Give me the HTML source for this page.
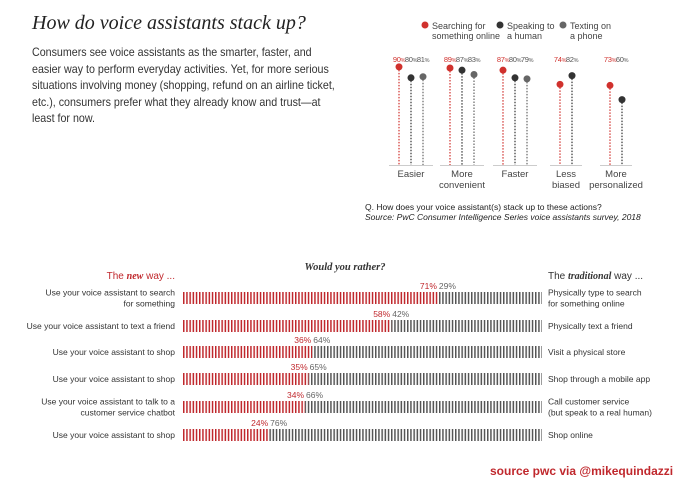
<!DOCTYPE html>
<html><head><meta charset="utf-8"><style>
body{margin:0;background:#fff;width:680px;height:482px;overflow:hidden;position:relative;font-family:"Liberation Sans",Arial,sans-serif}
.t{position:absolute;white-space:nowrap}
</style></head><body>
<div class="t" style="left:32px;top:12px;font:italic 20px 'Liberation Serif',serif;color:#222">How do voice assistants stack up?</div>
<div class="t" style="left:32px;top:44px;font-size:12px;line-height:16.5px;color:#333;transform:scaleX(0.89);transform-origin:0 0">Consumers see voice assistants as the smarter, faster, and<br>easier way to perform everyday activities. Yet, for more serious<br>situations involving money (shopping, refund on an airline ticket,<br>etc.), consumers prefer what they already know and trust—at<br>least for now.</div>
<svg id="topchart" width="680" height="482" style="position:absolute;left:0;top:0"></svg>
<svg id="botchart" width="680" height="482" style="position:absolute;left:0;top:0"></svg>
<div class="t" style="left:490px;top:464px;font-size:12px;font-weight:bold;color:#c0282d">source pwc via @mikequindazzi</div>
<script>
const groups=["Easier","More|convenient","Faster","Less|biased","More|personalized"];
const searching=[90,89,87,74,73];
const speaking=[80,87,80,82,60];
const texting=[81,83,79,null,null];
const seriesColors=["#d0312d","#333","#666"];
const legendLabels=["Searching for|something online","Speaking to|a human","Texting on|a phone"];

const rowsNew=["Use your voice assistant to search|for something","Use your voice assistant to text a friend","Use your voice assistant to shop","Use your voice assistant to shop","Use your voice assistant to talk to a|customer service chatbot","Use your voice assistant to shop"];
const rowsOld=["Physically type to search|for something online","Physically text a friend","Visit a physical store","Shop through a mobile app","Call customer service|(but speak to a real human)","Shop online"];
const newPct=[71,58,36,35,34,24];

const NS="http://www.w3.org/2000/svg";
function mk(p,tag,a,txt){const e=document.createElementNS(NS,tag);for(const k in a)e.setAttribute(k,a[k]);if(txt!=null)e.textContent=txt;p.appendChild(e);return e;}
function lines(p,x,y,str,a,lh){const t=mk(p,'text',Object.assign({x:x,y:y},a));str.split('|').forEach((s,i)=>{mk(t,'tspan',{x:x,dy:i?lh:0},s);});return t;}

// top chart
const topSvg=document.getElementById('topchart');
const base=165,yScale=v=>base-v*1.09;
const gx=[399,450,503,560,610],dx=12;
legendLabels.forEach((l,i)=>{const lx=[425,500,563][i];
 const c=mk(topSvg,'circle',{cx:lx,cy:25,r:3.5,fill:seriesColors[i]});
 
 const t=lines(topSvg,lx+7,29,l,{'font-size':9,fill:'#444','font-family':'Liberation Sans'},10);
 });
const series=[searching,speaking,texting];
groups.forEach((g,gi)=>{
 let n=0;
 series.forEach((s,si)=>{const v=s[gi];if(v==null)return;n++;
  const x=gx[gi]+si*dx;
  const ln=mk(topSvg,'line',{x1:x,x2:x,y1:yScale(v),y2:base,stroke:seriesColors[si],'stroke-width':1.2,'stroke-dasharray':'1.5,1.5'});
  
  const c=mk(topSvg,'circle',{cx:x,cy:yScale(v),r:3.5,fill:seriesColors[si]});
  
  const t=mk(topSvg,'text',{x:x,y:62,'font-size':7.5,'text-anchor':'middle',fill:si==0?'#d0312d':'#555','letter-spacing':-0.3});
  mk(t,'tspan',{},v);mk(t,'tspan',{'font-size':5.5},'%');
  
 });
 const w=(n-1)*dx;
 const bl=mk(topSvg,'line',{x1:gx[gi]-10,x2:gx[gi]+w+10,y1:base+0.5,y2:base+0.5,stroke:'#ccc'});
 
 const t=lines(topSvg,gx[gi]+w/2,177,g,{'font-size':9.5,'text-anchor':'middle',fill:'#444'},11);
 
});
let q=mk(topSvg,'text',{x:365,y:210,'font-size':8.5,fill:'#222'},'Q. How does your voice assistant(s) stack up to these actions?');

q=mk(topSvg,'text',{x:365,y:220,'font-size':8.5,'font-style':'italic',fill:'#222'},'Source: PwC Consumer Intelligence Series voice assistants survey, 2018');


// bottom chart
const botSvg=document.getElementById('botchart');
const x0=183,x1=542,xs=p=>x0+(x1-x0)*p/100;
const rowY=[298,326,352,379,407,435];
let h=mk(botSvg,'text',{x:345,y:270,'font-size':10.5,'font-weight':'bold','font-style':'italic','font-family':'Liberation Serif','text-anchor':'middle',fill:'#333'},'Would you rather?');

h=mk(botSvg,'text',{x:175,y:279,'font-size':10,'text-anchor':'end',fill:'#c0282d'});
mk(h,'tspan',{},'The ');mk(h,'tspan',{'font-weight':'bold','font-style':'italic','font-family':'Liberation Serif'},'new');mk(h,'tspan',{},' way ...');

h=mk(botSvg,'text',{x:548,y:279,'font-size':10,fill:'#333'});
mk(h,'tspan',{},'The ');mk(h,'tspan',{'font-weight':'bold','font-style':'italic','font-family':'Liberation Serif'},'traditional');mk(h,'tspan',{},' way ...');

const defs=mk(botSvg,'defs',{});
[['pr','#c0282d'],['pg','#555']].forEach(([id,c])=>{const p=mk(defs,'pattern',{id:id,width:3.2,height:20,patternUnits:'userSpaceOnUse',x:x0});mk(p,'rect',{x:0,y:0,width:1.5,height:20,fill:c});});
newPct.forEach((p,i)=>{
 const y=rowY[i],bh=12,xm=xs(p);
 const r1=mk(botSvg,'rect',{x:x0,y:y-bh/2,width:xm-x0,height:bh,fill:'url(#pr)'});
 
 const r2=mk(botSvg,'rect',{x:xm,y:y-bh/2,width:x1-xm,height:bh,fill:'url(#pg)'});
 
 let t=mk(botSvg,'text',{x:xm-1,y:y-9,'font-size':8.5,'text-anchor':'end',fill:'#c0282d'},p+'%');
 
 t=mk(botSvg,'text',{x:xm+1,y:y-9,'font-size':8.5,fill:'#666'},(100-p)+'%');
 
 const nl=rowsNew[i].split('|').length, ol=rowsOld[i].split('|').length;
 t=lines(botSvg,175,y+3-(nl-1)*5.5,rowsNew[i],{'font-size':8.5,'text-anchor':'end',fill:'#333'},11);
 
 t=lines(botSvg,548,y+3-(ol-1)*5.5,rowsOld[i],{'font-size':8.5,fill:'#333'},11);
 
});
</script>
</body></html>
